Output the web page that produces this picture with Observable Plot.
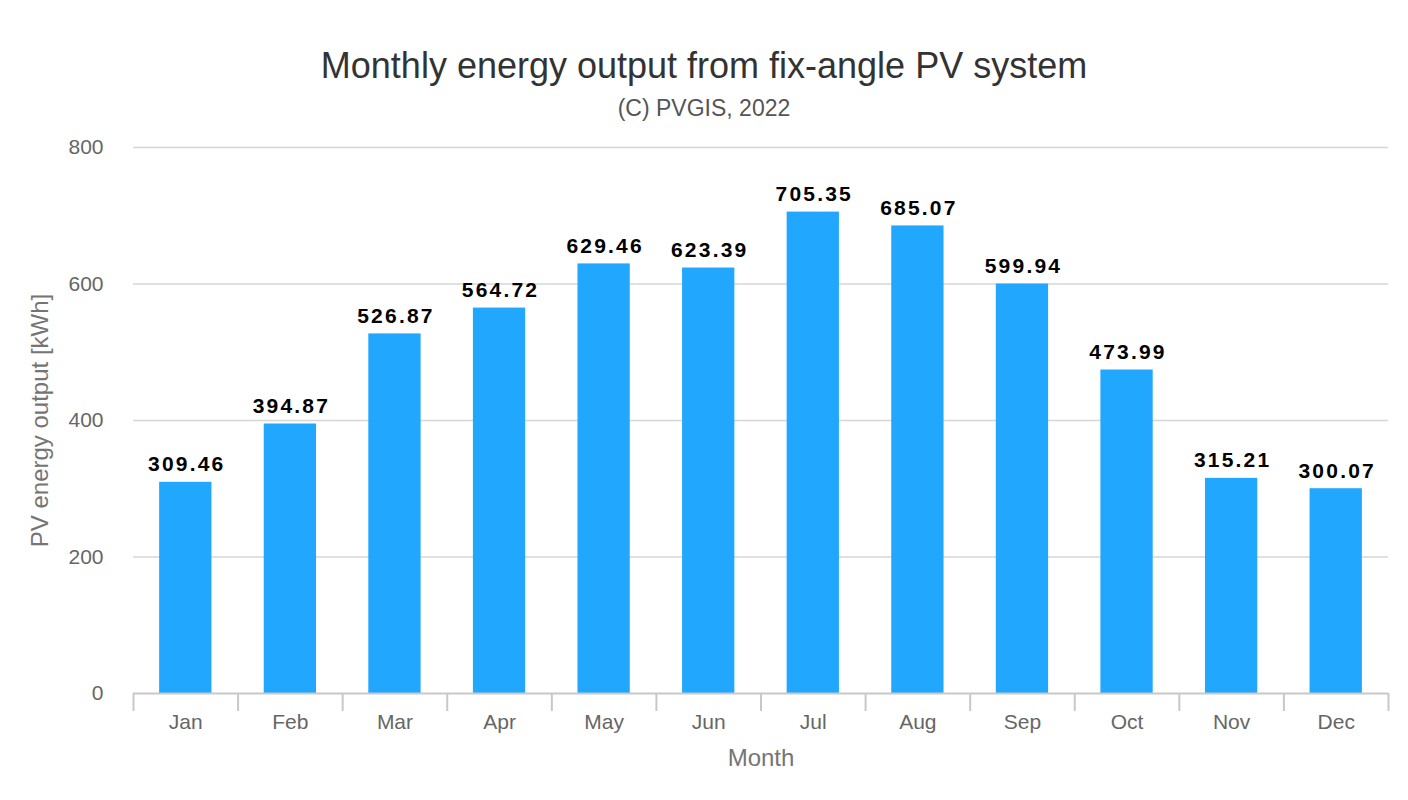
<!DOCTYPE html>
<html>
<head>
<meta charset="utf-8">
<script src="https://cdn.jsdelivr.net/npm/d3@7"></script>
<script src="https://cdn.jsdelivr.net/npm/@observablehq/plot@0.6"></script>
<style>
  html, body { margin: 0; padding: 0; background: #fff; }
  body { width: 1408px; height: 800px; overflow: hidden; font-family: "Liberation Sans", Arial, sans-serif; }
  #header { position: relative; width: 1408px; height: 130px; }
  #title { position: absolute; left: 0; width: 1408px; top: 48px; text-align: center; font-size: 36px; line-height: 36px; color: #333; }
  #subtitle { position: absolute; left: 0; width: 1408px; top: 97px; text-align: center; font-size: 23px; line-height: 23px; color: #555; }
  #chart svg { display: block; }
</style>
</head>
<body>
<div id="header">
  <div id="title">Monthly energy output from fix-angle PV system</div>
  <div id="subtitle">(C) PVGIS, 2022</div>
</div>
<div id="chart"></div>
<script>
const months = ["Jan","Feb","Mar","Apr","May","Jun","Jul","Aug","Sep","Oct","Nov","Dec"];
const output = [309.46, 394.87, 526.87, 564.72, 629.46, 623.39, 705.35, 685.07, 599.94, 473.99, 315.21, 300.07];
const yTicks = [0, 200, 400, 600, 800];
const xLabel = "Month";
const yLabel = "PV energy output [kWh]";

const data = months.map((m, i) => ({month: m, value: output[i]}));

const width = 1408, height = 670;
const marginLeft = 133, marginRight = 20, marginTop = 17, marginBottom = 107;
const step = (width - marginLeft - marginRight) / months.length;

const chart = Plot.plot({
  width, height, marginLeft, marginRight, marginTop, marginBottom,
  style: {fontFamily: "'Liberation Sans', Arial, sans-serif", fontSize: "21px", background: "#fff"},
  x: {domain: months, paddingInner: 0.5, paddingOuter: 0.25, round: false, label: null},
  y: {domain: [0, 800], label: null},
  marks: [
    Plot.gridY(yTicks.filter(t => t > 0), {stroke: "#d6d6d6", strokeOpacity: 1, strokeWidth: 1.6}),
    Plot.barY(data, {x: "month", y: "value", fill: "#22a7fe"}),
    Plot.text(data, {x: "month", y: "value", text: d => d.value.toFixed(2), dy: -11, dx: 1, lineAnchor: "bottom",
      fontWeight: "bold", fontSize: 21, fill: "#000"}),
    Plot.ruleY([0], {stroke: "#c8c8c8", strokeWidth: 2}),
    Plot.axisY({ticks: yTicks, tickSize: 0, tickPadding: 30, fill: "#666", fontSize: 21, label: null}),
    Plot.axisX({tickSize: 0, tickPadding: 21, fill: "#666", fontSize: 21, label: null}),
    Plot.axisX({tickSize: 18, tickFormat: () => "", dx: -step / 2, stroke: "#c8c8c8", strokeWidth: 2, label: null}),
    Plot.axisX({ticks: [months[months.length - 1]], tickSize: 18, tickFormat: () => "", dx: step / 2, stroke: "#c8c8c8", strokeWidth: 2, label: null}),
    Plot.text([xLabel], {frameAnchor: "bottom", dy: 72, fontSize: 24, fill: "#757575"}),
    Plot.text([yLabel], {frameAnchor: "left", textAnchor: "middle", dx: -93, rotate: -90, fontSize: 24, fill: "#757575"})
  ]
});

d3.select(chart).selectAll('g[aria-label="text"]').filter((d, i) => i === 0)
  .selectAll("text").style("letter-spacing", "2.2px");

document.getElementById("chart").appendChild(chart);
</script>
</body>
</html>
